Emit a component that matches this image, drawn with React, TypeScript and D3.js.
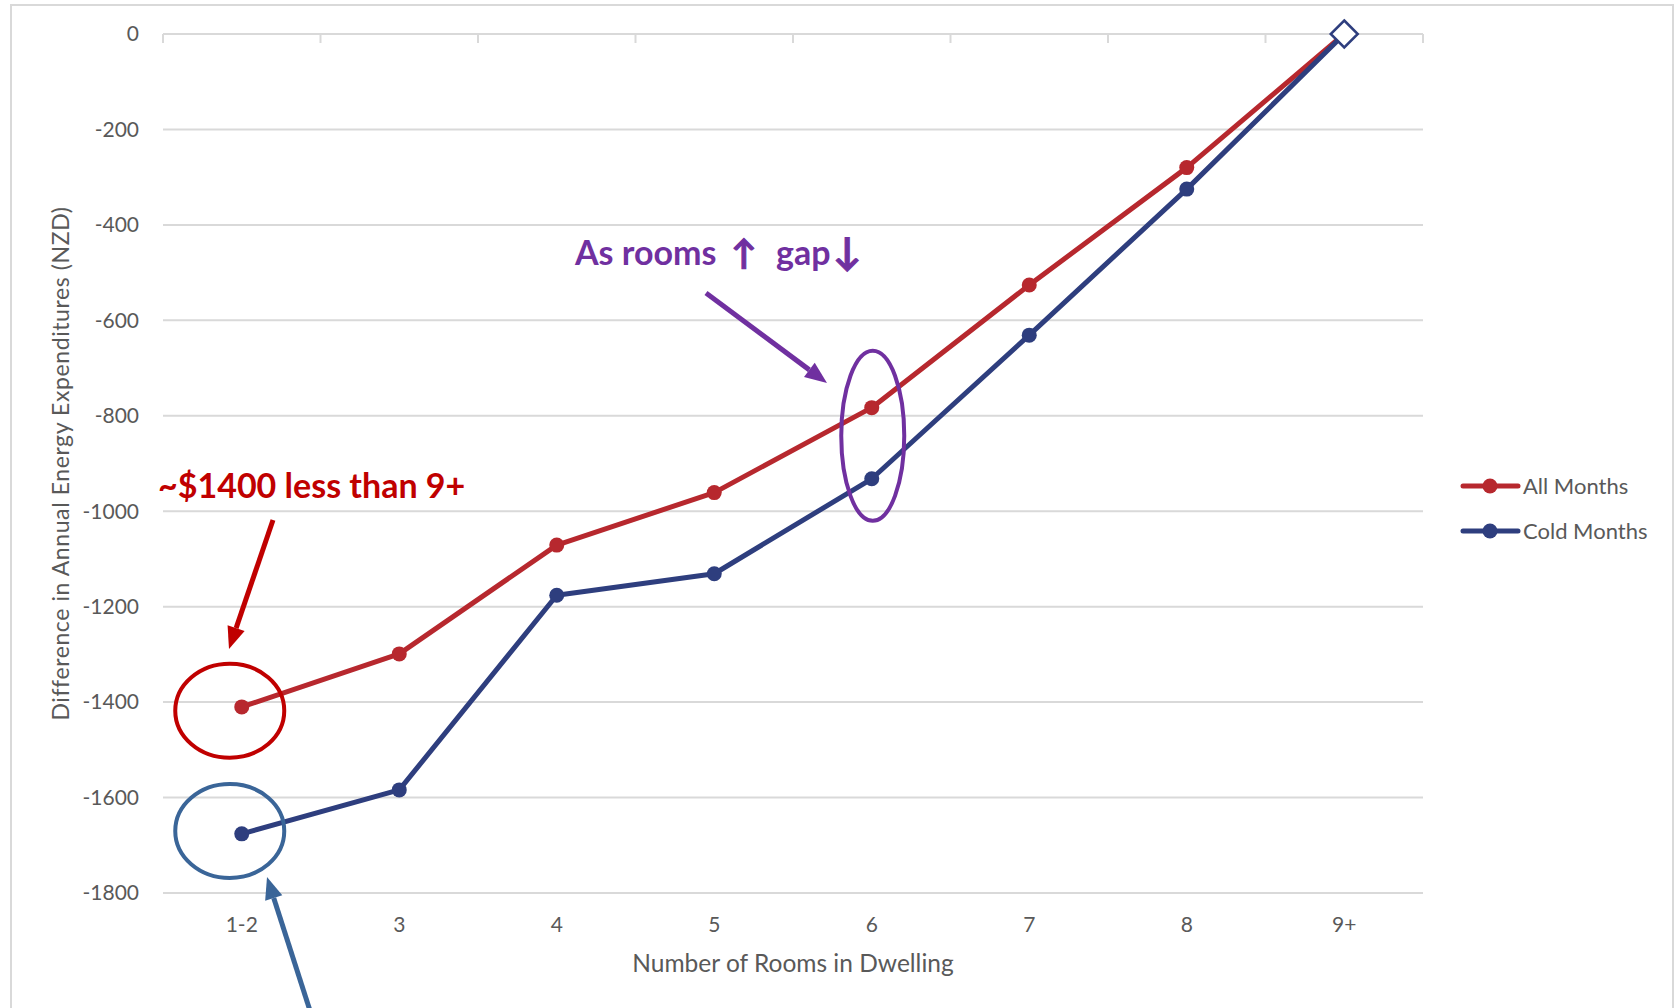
import React from "react";
import * as d3 from "d3";

const categories = ["1-2", "3", "4", "5", "6", "7", "8", "9+"];
const allMonths = [-1410, -1299, -1071, -961, -783, -526, -280, 0];
const coldMonths = [-1676, -1584, -1176, -1131, -932, -631, -325, 0];
const yTicks = [0, -200, -400, -600, -800, -1000, -1200, -1400, -1600, -1800];

const W = 1679;
const H = 1008;
const margin = { left: 163, right: 1423, top: 34, bottom: 893 };
const FONT = "Lato, 'Open Sans', sans-serif";
const GRAY = "#595959";
const GRID = "#D9D9D9";
const RED = "#B7282E";
const NAVY = "#2E3E7E";

type Series = { name: string; values: number[]; color: string };
const series: Series[] = [
  { name: "All Months", values: allMonths, color: RED },
  { name: "Cold Months", values: coldMonths, color: NAVY },
];

const Arrow = (props: { x1: number; y1: number; x2: number; y2: number; color: string }) => {
  const { x1, y1, x2, y2, color } = props;
  const a = Math.atan2(y2 - y1, x2 - x1);
  const len = 22;
  const half = 9;
  const bx = x2 - len * Math.cos(a);
  const by = y2 - len * Math.sin(a);
  const px = -Math.sin(a) * half;
  const py = Math.cos(a) * half;
  return (
    <g>
      <line x1={x1} y1={y1} x2={bx} y2={by} stroke={color} strokeWidth={5} />
      <path d={`M${x2},${y2}L${bx + px},${by + py}L${bx - px},${by - py}Z`} fill={color} />
    </g>
  );
};

export default function App() {
  const x = d3
    .scalePoint<string>()
    .domain(categories)
    .range([margin.left, margin.right])
    .padding(0.5);
  const y = d3.scaleLinear().domain([0, -1800]).range([margin.top, margin.bottom]);
  const step = x.step();

  const line = d3
    .line<number>()
    .x((_, i) => x(categories[i]) as number)
    .y((d) => y(d));

  const last = categories.length - 1;
  const cx = (c: string) => x(c) as number;

  return (
    <svg
      width={W}
      height={H}
      style={{ position: "absolute", left: 0, top: 0, display: "block", background: "#fff" }}
      fontFamily={FONT}
    >
      <rect x={11} y={5} width={1662} height={1020} fill="#fff" stroke={GRID} strokeWidth={2} />

      {/* gridlines */}
      {yTicks.map((t) => (
        <line key={t} x1={margin.left} x2={margin.right} y1={y(t)} y2={y(t)} stroke={GRID} strokeWidth={2} />
      ))}
      {/* category axis ticks along the zero line */}
      {d3.range(categories.length + 1).map((i) => (
        <line
          key={i}
          x1={margin.left + i * step}
          x2={margin.left + i * step}
          y1={y(0)}
          y2={y(0) + 9}
          stroke={GRID}
          strokeWidth={2}
        />
      ))}

      {/* y tick labels */}
      {yTicks.map((t) => (
        <text key={t} x={139} y={y(t)} dy="0.35em" textAnchor="end" fontSize={21} fill={GRAY}>
          {t}
        </text>
      ))}
      {/* x tick labels */}
      {categories.map((c) => (
        <text key={c} x={cx(c)} y={932} textAnchor="middle" fontSize={21} fill={GRAY}>
          {c}
        </text>
      ))}

      <text x={(margin.left + margin.right) / 2} y={972} textAnchor="middle" fontSize={24.5} fill={GRAY}>
        Number of Rooms in Dwelling
      </text>
      <text
        transform={`translate(69,${(margin.top + margin.bottom) / 2}) rotate(-90)`}
        textAnchor="middle"
        fontSize={23}
        letterSpacing={0.6}
        fill={GRAY}
      >
        Difference in Annual Energy Expenditures (NZD)
      </text>

      {/* series */}
      {series.map((s) => (
        <g key={s.name}>
          <path d={line(s.values) ?? ""} fill="none" stroke={s.color} strokeWidth={5} strokeLinejoin="round" />
          {s.values.slice(0, last).map((v, i) => (
            <circle key={i} cx={cx(categories[i])} cy={y(v)} r={7.5} fill={s.color} />
          ))}
        </g>
      ))}
      {/* final point marker */}
      <path
        d={`M${cx(categories[last])},${y(coldMonths[last]) - 13.5}l13.5,13.5l-13.5,13.5l-13.5,-13.5Z`}
        fill="#fff"
        stroke={NAVY}
        strokeWidth={2.5}
      />

      {/* legend */}
      {series.map((s, i) => (
        <g key={s.name} transform={`translate(1463,${486 + i * 45})`}>
          <line x1={0} x2={55} y1={0} y2={0} stroke={s.color} strokeWidth={5} strokeLinecap="round" />
          <circle cx={27} cy={0} r={7.5} fill={s.color} />
          <text x={60} y={0} dy="0.35em" fontSize={22} fill={GRAY}>
            {s.name}
          </text>
        </g>
      ))}

      {/* annotations */}
      <ellipse cx={cx("1-2") - 12} cy={y(-1418)} rx={54.5} ry={47} fill="none" stroke="#C00000" strokeWidth={4} />
      <ellipse cx={cx("1-2") - 12} cy={y(-1670)} rx={54.5} ry={47} fill="none" stroke="#3A6598" strokeWidth={4} />
      <ellipse cx={cx("6") + 1} cy={y(-842)} rx={31.5} ry={85} fill="none" stroke="#7030A0" strokeWidth={4} />

      <text x={158} y={498} fontSize={34} fontWeight={700} fill="#C00000">
        ~$1400 less than 9+
      </text>
      <Arrow x1={273} y1={520} x2={229} y2={649} color="#C00000" />

      <g fontSize={34} fontWeight={700} fill="#7030A0">
        <text x={575} y={265}>As rooms</text>
        <text x={731} y={265} stroke="#7030A0" strokeWidth={1}>↑</text>
        <text x={776} y={265}>gap</text>
        <text x={833} y={265} fontSize={38} stroke="#7030A0" strokeWidth={1}>↓</text>
      </g>
      <Arrow x1={706} y1={293} x2={827} y2={383} color="#7030A0" />

      <Arrow x1={313} y1={1020} x2={267} y2={877} color="#3A6598" />
    </svg>
  );
}
